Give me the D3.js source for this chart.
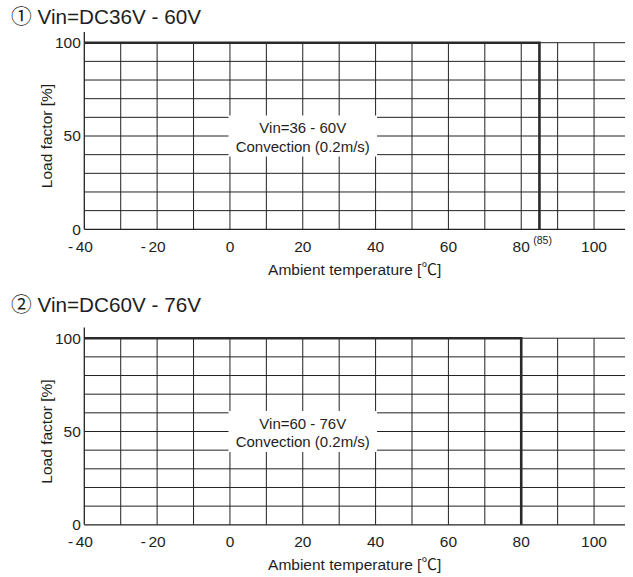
<!DOCTYPE html>
<html><head><meta charset="utf-8">
<script src="https://cdn.jsdelivr.net/npm/d3@7"></script>
<style>
body{margin:0;background:#fff}
svg{display:block}
text{font-family:"Liberation Sans",Arial,Helvetica,sans-serif;fill:#1e1e1e}
</style>
</head><body>
<svg id="c" width="633" height="577"></svg>
<script>
// ---- data ----
const circledMarks = ["①", "②"];
const titleTexts = ["Vin=DC36V - 60V", "Vin=DC60V - 76V"];
const boxLines1 = ["Vin=36 - 60V", "Convection (0.2m/s)"];
const boxLines2 = ["Vin=60 - 76V", "Convection (0.2m/s)"];
const temps1 = [-40, 85, 85];
const loads1 = [100, 100, 0];
const temps2 = [-40, 80, 80];
const loads2 = [100, 100, 0];
const xTickValues = [-40, -20, 0, 20, 40, 60, 80, 100];
const xGridValues = [-30, -20, -10, 0, 10, 20, 30, 40, 50, 60, 70, 80, 90, 100];
const yTickValues = [0, 50, 100];
const yGridValues = [10, 20, 30, 40, 50, 60, 70, 80, 90, 100];
const xDomain = [-40, 108.5];
const yDomain = [0, 100];
const notes1 = [{at: 80, text: "(85)"}];
const notes2 = [];
const xTitle = "Ambient temperature [";
const xUnit = "℃";
const yTitle = "Load factor [%]";

const svg = d3.select("#c");

function drawChart(cfg) {
  const left = 84.3, right = 625;
  const top = cfg.top, bottom = cfg.top + 186.6;
  const x = d3.scaleLinear().domain(xDomain).range([left, right]);
  const y = d3.scaleLinear().domain(yDomain).range([bottom, top]);
  const g = svg.append("g");

  // title
  const t = g.append("text").attr("x", 11).attr("y", cfg.titleY)
    .style("font-size", "20.7px");
  t.append("tspan").style("font-family", "'Noto Sans CJK JP'").text(cfg.mark);
  t.append("tspan").text(" " + cfg.title);

  // horizontal grid
  g.append("g").selectAll("line").data(yGridValues).join("line")
    .attr("x1", x(xDomain[0])).attr("x2", x(xDomain[1]))
    .attr("y1", d => y(d)).attr("y2", d => y(d))
    .attr("stroke", "#222").attr("stroke-width", 1);
  // vertical grid
  g.append("g").selectAll("line").data(xGridValues).join("line")
    .attr("x1", d => x(d)).attr("x2", d => x(d))
    .attr("y1", y(0)).attr("y2", y(100))
    .attr("stroke", "#222").attr("stroke-width", 1);

  // label box
  g.append("rect")
    .attr("x", x(-0.4)).attr("width", x(40.4) - x(-0.4))
    .attr("y", y(61)).attr("height", y(39) - y(61))
    .attr("fill", "#fff");
  g.append("text").attr("x", x(20)).attr("y", y(50) - 3)
    .attr("text-anchor", "middle").style("font-size", "15px").text(cfg.box[0]);
  g.append("text").attr("x", x(20)).attr("y", y(50) + 15.5)
    .attr("text-anchor", "middle").style("font-size", "15px").text(cfg.box[1]);

  // axes lines
  g.append("line").attr("x1", x(-40)).attr("x2", x(-40))
    .attr("y1", y(0)).attr("y2", y(105.8))
    .attr("stroke", "#222").attr("stroke-width", 1.3);
  g.append("line").attr("x1", x(-40)).attr("x2", x(xDomain[1]))
    .attr("y1", y(0)).attr("y2", y(0))
    .attr("stroke", "#222").attr("stroke-width", 1.3);

  // derating curve
  const line = d3.line().x(d => x(d[0])).y(d => y(d[1]));
  g.append("path").datum(cfg.temps.map((tt, i) => [tt, cfg.loads[i]]))
    .attr("d", line).attr("fill", "none")
    .attr("stroke", "#2a2a2a").attr("stroke-width", 2.6);

  // y tick labels
  g.append("g").selectAll("text").data(yTickValues).join("text")
    .attr("x", x(-40) - 3.5).attr("y", d => y(d) + 5.3)
    .attr("text-anchor", "end").style("font-size", "15.5px").text(d => d);

  // x tick labels
  xTickValues.forEach(v => {
    const tx = g.append("text").attr("x", x(v)).attr("y", bottom + 22.5)
      .attr("text-anchor", "middle").style("font-size", "15.5px").text(Math.abs(v));
    if (v < 0) {
      const w = tx.node().getComputedTextLength();
      g.append("text").attr("x", x(v) - w / 2 - 2.5).attr("y", bottom + 22.5)
        .attr("text-anchor", "end").style("font-size", "15.5px").text("-");
    }
  });
  cfg.notes.forEach(n => {
    g.append("text").attr("x", x(n.at) + 12).attr("y", bottom + 15)
      .style("font-size", "10.5px").text(n.text);
  });

  // axis titles
  const xt = g.append("text").attr("x", (left + right) / 2).attr("y", bottom + 45.5)
    .attr("text-anchor", "middle").style("font-size", "15.5px");
  xt.append("tspan").text(xTitle);
  xt.append("tspan").style("font-family", "'Noto Sans CJK JP'").text(xUnit);
  xt.append("tspan").text("]");

  g.append("text").attr("transform", `translate(52,${(top + bottom) / 2}) rotate(-90)`)
    .attr("text-anchor", "middle").style("font-size", "15.5px").text(yTitle);
}

drawChart({top: 42.7, titleY: 24, mark: circledMarks[0], title: titleTexts[0],
  box: boxLines1, temps: temps1, loads: loads1, notes: notes1});
drawChart({top: 338.2, titleY: 312, mark: circledMarks[1], title: titleTexts[1],
  box: boxLines2, temps: temps2, loads: loads2, notes: notes2});
</script>
</body></html>
